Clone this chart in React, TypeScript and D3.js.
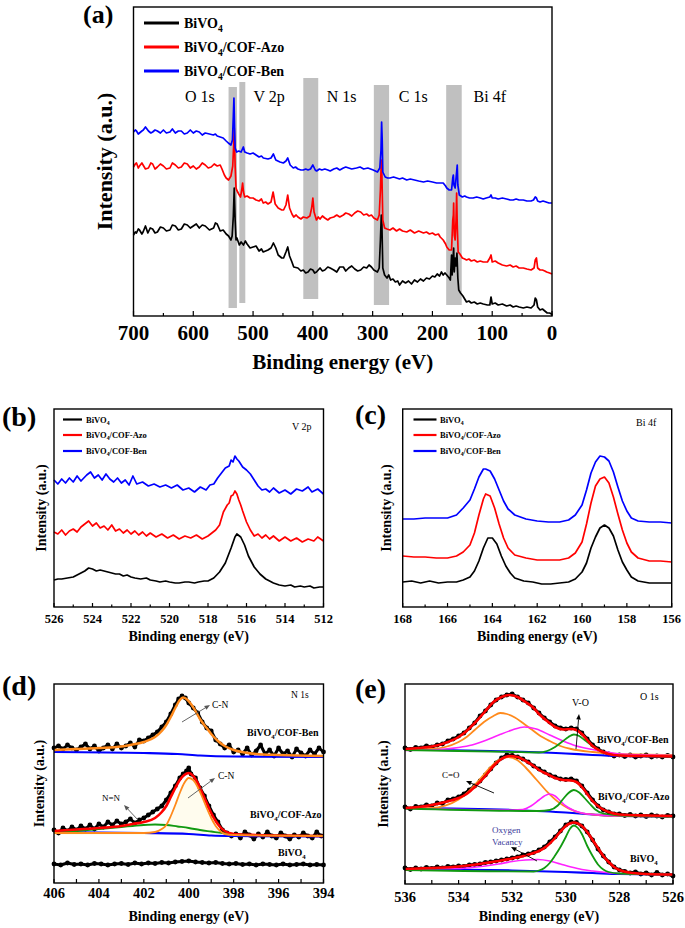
import React from 'react';
import * as d3 from 'd3';

type P = [number, number];
const FONT = '"Liberation Serif","Times New Roman",serif';

// ---------------- (a) survey ----------------
const surveyTicks = [700, 600, 500, 400, 300, 200, 100, 0];
const seriesNames = ['BiVO4', 'BiVO4/COF-Azo', 'BiVO4/COF-Ben'];
const seriesColors = ['#000000', '#ff0000', '#0000ff'];
const surveyBands = [
  { label: 'O 1s', from: 541, to: 527, lo: 8, hi: 229, labelAt: 589 },
  { label: 'V 2p', from: 523, to: 513, lo: 13, hi: 234, labelAt: 473 },
  { label: 'N 1s', from: 416, to: 391, lo: 17, hi: 238, labelAt: 352 },
  { label: 'C 1s', from: 298, to: 272.5, lo: 11, hi: 231, labelAt: 232 },
  { label: 'Bi 4f', from: 177, to: 151, lo: 11, hi: 231, labelAt: 104 },
];
const surveyBiVO4: P[] = [[700,81],[697,84],[695,83],[692,87],[690,86],[686,82],[684,84],[680,90],[676,83],[672,88],[668,87],[664,83],[660,84],[655,89],[650,88],[645,85],[639,86],[635,91],[630,90],[625,86],[620,87],[615,92],[610,91],[605,88],[600,90],[595,92],[590,88],[585,91],[580,90],[573,86],[566,88],[563,93],[560,92],[555,85],[550,86],[545,82],[541,80],[537,76],[535,80],[533,100],[531.5,128],[530,96],[528.5,76],[527,78],[523,71],[520,74],[516,71],[513,75],[510,72],[505,68],[500,69],[495,70],[490,65],[486,67],[483,64],[475,66],[470,68],[466,73],[462,68],[458,61],[452,58],[449,58],[445,64],[442,69],[439,60],[435,54],[432,49],[425,48],[420,45],[416,46],[412,43],[408,44],[404,47],[400,46],[397,43],[394,44],[388,48],[384,45],[380,46],[375,49],[371,48],[365,46],[360,44],[355,49],[349,49],[345,45],[340,48],[335,50],[330,47],[325,45],[320,46],[315,49],[310,48],[306,51],[302,49],[298,46],[292,44],[289,48],[287,76],[285.5,101],[284.5,91],[283,48],[280,41],[276,38],[273,41],[270,36],[266,37],[262,34],[258,35],[255,31],[250,35],[245,33],[240,35],[235,32],[230,36],[225,34],[220,37],[215,35],[210,38],[205,37],[200,40],[196,39],[192,42],[188,40],[185,44],[182,41],[179,43],[176,41],[172,38],[170,36],[168,61],[167,41],[164.5,68],[163.5,44],[162,58],[160.5,50],[159,63],[157.5,38],[156,26],[153,23],[149,20],[146,17],[143,14],[139,15],[135,13],[130,14],[125,12],[120,13],[115,12],[108,11],[104,11],[102,19],[100,12],[95,13],[90,11],[83,12],[76,10],[70,11],[65,9],[60,10],[55,9],[48,8],[42,9],[35,8],[30,11],[28,18],[26,16],[24,9],[20,6],[16,7],[12,5],[8,3],[4,3],[1,2],[0,1]];
const surveyAzo: P[] = [[700,149],[697,152],[695,153],[692,148],[690,150],[686,153],[684,151],[680,147],[675,148],[671,153],[668,152],[664,147],[660,149],[655,152],[650,150],[645,147],[639,148],[635,153],[630,151],[625,148],[620,149],[615,153],[610,152],[605,148],[600,150],[595,147],[590,149],[585,153],[580,151],[575,148],[570,149],[565,152],[560,150],[555,151],[552,147],[548,141],[545,138],[541,136],[537,140],[534,150],[532.5,170],[531.5,188],[530,150],[528.5,128],[527.5,126],[524,122],[521,119],[519,126],[517.5,133],[516,124],[514,119],[510,120],[505,118],[500,118],[495,116],[490,115],[486,117],[483,113],[479,114],[475,112],[470,114],[466.5,124],[463,112],[458,108],[452,106],[449,106],[445,111],[442,121],[439,108],[435,102],[432,99],[428,101],[425,99],[420,97],[416,99],[410,98],[405,100],[402,108],[400,118],[398,104],[394,96],[391,99],[388,97],[384,100],[380,98],[375,96],[371,98],[365,99],[360,101],[355,99],[349,101],[345,103],[340,102],[335,100],[330,103],[325,105],[320,104],[315,101],[310,102],[306,100],[302,101],[298,98],[292,96],[289,101],[287,126],[285.5,156],[284.5,141],[283,96],[280,88],[276,87],[271,86],[266,88],[260,85],[255,87],[250,85],[243,84],[237,86],[230,83],[223,85],[215,83],[210,84],[205,82],[200,83],[195,81],[190,82],[187,79],[182,76],[178,72],[176,69],[172,66],[168,66],[166,96],[165,101],[164.5,113],[163.5,81],[162,76],[160.5,96],[159.5,123],[158.5,91],[157,64],[154,62],[150,58],[146,57],[143,56],[139,57],[135,55],[130,56],[125,54],[120,55],[115,54],[108,54],[104,58],[102,61],[100,54],[95,55],[90,53],[83,51],[76,50],[70,51],[65,49],[60,50],[55,48],[48,48],[42,47],[35,46],[30,48],[28,56],[26,58],[24,48],[20,46],[16,46],[12,45],[9,44],[4,43],[0,42]];
const surveyBen: P[] = [[700,184],[697,186],[695,185],[692,182],[690,183],[686,185],[683.6,186],[680,189],[675,185],[671,183],[668,184],[664,186],[660,185],[655,183],[650,186],[645,183],[639,184],[635,187],[630,183],[625,185],[620,185],[615,182],[610,183],[605,186],[600,183],[595,185],[590,184],[585,181],[580,183],[573,182],[566.5,181],[563,182],[560,180],[555,179],[550,178],[545,175],[541.4,173],[537,171],[534.5,176],[533,200],[532,218],[531,190],[530,168],[527.5,164],[524,165],[520,164],[516.3,169],[514,164],[510,163],[505,162],[500,163],[495,161],[490,159],[486,160],[482.8,158],[475,157],[470,158],[466,162],[462,156],[455,154],[449.4,153],[445,155],[442,158],[438,151],[432.7,148],[429,149],[425,147],[420,146],[416,146],[412,147],[408,146],[404,147],[400,151],[396,146],[393.7,145],[389,147],[385,146],[380,147],[375,146],[371,145],[365,147],[360,148],[355,146],[349,148],[345,149],[340,148],[335,147],[327,148],[321,149],[315,147],[308,148],[299,146],[292,144],[288,148],[286,166],[285,194],[284,176],[283,144],[279,139],[275,138],[271,138],[265,139],[260,138],[255,137],[250,138],[243,136],[237,137],[230,136],[223,135],[215,134],[208,135],[200,134],[193,133],[187,133],[182,133],[178,130],[176,128],[172,126],[168,126],[166,138],[165,141],[164,131],[162,128],[160,141],[158.5,151],[157.5,131],[155,121],[150,119],[146,120],[143,119],[138,118],[132,118],[126,119],[120,118],[115,117],[110,118],[104,119],[102,121],[100,118],[95,118],[90,117],[83,118],[76,117],[70,116],[65,116],[60,117],[55,116],[48,116],[42,115],[35,115],[31,116],[28,119],[26,118],[24,115],[20,114],[15,115],[10,114],[5,113],[0,113]];

// ---------------- (b) V 2p ----------------
const v2pTicks = [526, 524, 522, 520, 518, 516, 514, 512];
const v2pBiVO4: P[] = [[526,27],[525.8,28],[525.6,28],[525.3,29],[525,30],[524.7,33],[524.4,36],[524.2,39],[524,38],[523.8,36],[523.6,37],[523.4,36],[523.2,35],[523,34],[522.8,33],[522.6,33],[522.4,31],[522.2,32],[522,30],[521.8,29],[521.5,28],[521.2,29],[521,27],[520.7,26],[520.5,25],[520.2,26],[520,25],[519.7,24],[519.5,24],[519.2,25],[519,25],[518.7,24],[518.5,25],[518.2,26],[518,26],[517.7,29],[517.4,35],[517.1,44],[516.8,59],[516.6,70],[516.5,73],[516.3,70],[516.1,62],[515.9,51],[515.6,40],[515.3,33],[515,28],[514.8,26],[514.6,24],[514.3,22],[514,21],[513.7,22],[513.5,20],[513.2,21],[513,20],[512.7,21],[512.5,19],[512.2,20],[512,20]];
const v2pAzo: P[] = [[526,75],[525.8,73],[525.6,77],[525.4,72],[525.2,76],[525,78],[524.8,75],[524.6,80],[524.4,83],[524.2,86],[524,81],[523.8,84],[523.6,79],[523.4,81],[523.2,77],[523,82],[522.8,76],[522.6,78],[522.4,74],[522.2,77],[522,73],[521.8,76],[521.6,72],[521.4,75],[521.2,71],[521,74],[520.7,70],[520.4,73],[520.1,69],[519.8,72],[519.5,68],[519.2,71],[518.9,69],[518.6,72],[518.3,68],[518,71],[517.8,74],[517.6,77],[517.4,82],[517.2,95],[517,102],[516.9,104],[516.8,111],[516.7,112],[516.6,116],[516.5,113],[516.4,107],[516.3,102],[516.2,96],[516,85],[515.8,77],[515.6,71],[515.4,73],[515.2,69],[515,72],[514.8,68],[514.6,71],[514.3,66],[514,70],[513.7,66],[513.4,69],[513.1,65],[512.8,68],[512.5,66],[512.3,70],[512,66]];
const v2pBen: P[] = [[526,127],[525.8,123],[525.6,128],[525.4,124],[525.2,129],[525,125],[524.8,131],[524.6,126],[524.3,132],[524.1,135],[523.9,129],[523.7,132],[523.5,127],[523.3,133],[523.1,128],[522.9,125],[522.7,129],[522.5,124],[522.3,127],[522.1,122],[521.9,131],[521.7,123],[521.4,125],[521.1,121],[520.8,123],[520.5,120],[520.2,122],[519.9,119],[519.6,122],[519.3,117],[519,119],[518.7,115],[518.4,120],[518.1,117],[517.9,122],[517.7,123],[517.5,129],[517.3,134],[517.1,139],[516.9,141],[516.8,147],[516.7,145],[516.6,151],[516.5,148],[516.4,146],[516.2,140],[516,137],[515.8,133],[515.6,127],[515.4,121],[515.2,117],[515,118],[514.8,115],[514.6,119],[514.3,114],[514,117],[513.7,113],[513.4,118],[513.1,116],[512.8,120],[512.6,115],[512.3,118],[512,113]];

// ---------------- (c) Bi 4f ----------------
const bi4fTicks = [168, 166, 164, 162, 160, 158, 156];
const bi4fBiVO4: P[] = [[168,25],[167.6,26],[167.2,24],[166.8,26],[166.4,24],[166,25],[165.6,25],[165.3,27],[165,30],[164.8,36],[164.6,46],[164.4,59],[164.2,69],[164,69],[163.8,63],[163.6,51],[163.4,41],[163.2,34],[163,29],[162.6,26],[162.2,25],[161.8,23],[161.4,23],[161,24],[160.6,25],[160.3,28],[160,35],[159.8,44],[159.6,59],[159.4,70],[159.2,79],[159,82],[158.8,79],[158.6,71],[158.4,57],[158.2,45],[158,37],[157.8,30],[157.5,26],[157,24],[156.5,24],[156,24]];
const bi4fAzo: P[] = [[168,51],[167.5,50],[167,50],[166.5,49],[166,49],[165.6,51],[165.3,55],[165,62],[164.8,74],[164.6,92],[164.4,108],[164.3,113],[164.1,111],[163.9,99],[163.7,83],[163.5,69],[163.3,59],[163,52],[162.5,49],[162,47],[161.5,47],[161,47],[160.6,49],[160.3,54],[160,65],[159.8,83],[159.6,104],[159.4,121],[159.2,128],[159,130],[158.8,124],[158.6,110],[158.4,93],[158.2,77],[158,64],[157.8,55],[157.5,49],[157,46],[156.5,46],[156,45]];
const bi4fBen: P[] = [[168,88],[167.5,88],[167,89],[166.5,89],[166,89],[165.6,92],[165.3,99],[165,107],[164.8,118],[164.6,130],[164.4,138],[164.3,138],[164.1,136],[163.9,128],[163.7,117],[163.5,106],[163.3,98],[163,92],[162.5,88],[162,86],[161.5,85],[161,85],[160.6,87],[160.3,92],[160,102],[159.8,117],[159.6,134],[159.4,145],[159.2,151],[159,150],[158.8,146],[158.6,135],[158.4,120],[158.2,106],[158,96],[157.8,89],[157.5,86],[157,85],[156.5,85],[156,84]];

// ---------------- (d) N 1s ----------------
const n1sTicks = [406, 404, 402, 400, 398, 396, 394];
const n1sBenBase: P[] = [[406,131],[402,130],[400.5,129],[399.5,127.5],[398,126.5],[394,126]];
const n1sBenFit: P[] = [[406,133],[405,134],[404,135],[403,136.5],[402.5,138.5],[402,141],[401.5,146],[401.2,152],[401,158],[400.8,166],[400.6,175],[400.4,183],[400.25,185.5],[400.1,184],[399.9,179],[399.7,172],[399.5,164],[399.2,155],[399,149],[398.7,142],[398.4,137],[398,133],[397.5,130.5],[397,129],[396,128],[394,127]];
const n1sBenDots: P[] = [[406,135],[405.8,137],[405.6,134],[405.4,138],[405.2,135],[405,133],[404.8,136],[404.6,139],[404.4,134],[404.2,137],[404,132],[403.8,135],[403.6,138],[403.4,134],[403.2,139],[403,135],[402.8,137],[402.6,140],[402.4,136],[402.2,143],[402,142],[401.8,145],[401.6,148],[401.4,151],[401.2,156],[401,161],[400.8,169],[400.6,178],[400.45,184],[400.3,187],[400.15,185],[400,180],[399.8,175],[399.6,170],[399.4,161],[399.2,155],[399,152],[398.8,143],[398.6,139],[398.4,135],[398.2,138],[398,131],[397.8,133],[397.6,129],[397.4,135],[397.2,128],[397,132],[396.8,138],[396.6,129],[396.4,133],[396.2,127],[396,135],[395.8,129],[395.6,132],[395.4,126],[395.2,134],[395,130],[394.8,127],[394.6,133],[394.4,129],[394.2,135],[394,131]];
const n1sAzoBase: P[] = [[406,51],[402,50],[400,49],[399,47.5],[398,47],[394,46.5]];
const n1sAzoEnv: P[] = [[406,52],[405,53.5],[404,55],[403,57],[402.5,59],[402,61],[401.5,65],[401.2,71],[401,77],[400.8,86],[400.6,95],[400.4,103],[400.2,108],[400,110],[399.8,107],[399.6,100],[399.4,90],[399.2,80],[399,70],[398.8,62],[398.6,56],[398.4,52],[398.2,50],[398,49],[397,48],[396,47.5],[394,47]];
const n1sAzoCN: P[] = [[406,50],[402,50],[401.5,51],[401.2,54],[401,58],[400.8,67],[400.6,78],[400.4,90],[400.2,100],[400,105],[399.8,103],[399.6,96],[399.4,86],[399.2,75],[399,65],[398.8,57],[398.6,52],[398.4,49],[398,48],[394,47]];
const n1sAzoNN: P[] = [[406,50],[405,52],[404,54],[403,56],[402.5,57],[402,58],[401.5,58.5],[401,58],[400.5,56.5],[400,55],[399.5,53],[399,51.5],[398.5,50],[398,49],[397,48],[396,47.5],[394,47]];
const n1sAzoDots: P[] = [[406,53],[405.8,50],[405.6,55],[405.4,52],[405.2,56],[405,53],[404.8,57],[404.6,54],[404.4,58],[404.2,54],[404,59],[403.8,56],[403.6,61],[403.4,58],[403.2,62],[403,59],[402.8,61],[402.6,64],[402.4,60],[402.2,63],[402,65],[401.8,68],[401.6,71],[401.4,74],[401.2,77],[401,83],[400.8,90],[400.6,97],[400.4,105],[400.25,109],[400.1,112],[400,115],[399.9,109],[399.7,105],[399.5,95],[399.3,87],[399.1,77],[398.9,68],[398.7,61],[398.5,53],[398.3,50],[398.1,47],[397.9,49],[397.7,45],[397.5,51],[397.3,48],[397.1,44],[396.9,49],[396.7,46],[396.5,51],[396.3,47],[396.1,45],[395.9,50],[395.7,47],[395.5,44],[395.3,48],[395.1,46],[394.9,50],[394.7,47],[394.5,45],[394.3,51],[394.1,47]];
const n1sBiVO4Dots: P[] = [[406,19],[405.7,18],[405.4,20],[405.1,18.5],[404.8,19],[404.5,18],[404.2,19.5],[403.9,19],[403.6,18],[403.3,19],[403,19.5],[402.7,18.5],[402.4,20],[402.1,19],[401.8,20],[401.5,19.5],[401.2,20.5],[400.9,20],[400.6,21],[400.3,21.5],[400,22],[399.7,21],[399.4,20.5],[399.1,20],[398.8,20.5],[398.5,19.5],[398.2,19],[397.9,19.5],[397.6,18.5],[397.3,19],[397,18],[396.7,19],[396.4,18.5],[396.1,18],[395.8,19],[395.5,18],[395.2,18.5],[394.9,19],[394.6,18],[394.3,18.5],[394,18]];

// ---------------- (e) O 1s ----------------
const o1sTicks = [536, 534, 532, 530, 528, 526];
const o1sBenBase: P[] = [[536,134.5],[532,132.5],[530,130.5],[529,129],[528,128],[526,127.5]];
const o1sBenEnv: P[] = [[536,135],[535.5,136],[535,137.5],[534.5,141],[534,147],[533.7,153],[533.4,161],[533,173],[532.7,182],[532.4,187],[532.1,189],[531.8,187],[531.5,182],[531.2,176],[531,170],[530.7,163],[530.4,157],[530.1,154.5],[529.8,155],[529.6,154],[529.4,150],[529.2,144],[529,138],[528.7,133],[528.4,130],[528,128.5],[527,128],[526,127.5]];
const o1sBenCO: P[] = [[536,134],[535,135],[534.5,137],[534,142],[533.7,147],[533.4,154],[533,163],[532.7,168],[532.45,171],[532.2,170],[531.9,166.5],[531.6,161],[531.3,155],[531,149],[530.6,143],[530.2,138],[529.8,135],[529,132],[528,130],[526,129]];
const o1sBenOV: P[] = [[536,133.5],[534.5,135],[534,136.5],[533.5,139],[533,143.5],[532.5,149],[532,154],[531.55,157],[531.1,155],[530.6,149],[530.1,143],[529.6,138],[529,134.5],[528.5,132],[528,130],[526,128.5]];
const o1sBenVO: P[] = [[536,134],[532,132],[531,131.5],[530.7,133],[530.4,137],[530.1,143],[529.9,147],[529.7,149.5],[529.5,148],[529.3,144],[529,138],[528.7,133],[528.4,130],[528,128.5],[526,127.5]];
const o1sBenDots: P[] = [[536,136],[535.8,134.5],[535.6,136.5],[535.4,136],[535.2,138],[535,137],[534.8,139],[534.6,140],[534.4,143],[534.2,145],[534,148],[533.8,151],[533.6,156],[533.4,161],[533.2,168],[533,173],[532.8,179],[532.6,184],[532.4,187],[532.2,189],[532,190],[531.8,187],[531.6,184],[531.4,181],[531.2,176],[531,171],[530.8,166],[530.6,162],[530.4,158],[530.2,156],[530,155],[529.8,156],[529.6,155],[529.4,151],[529.2,145],[529,139],[528.8,135],[528.6,132],[528.4,130],[528.2,128],[528,129],[527.8,127.5],[527.6,129],[527.4,127],[527.2,128],[527,129],[526.8,127],[526.6,128],[526.4,127],[526.2,128.5],[526,127]];
const o1sAzoBase: P[] = [[536,76],[532,74],[530,71.5],[529,69.5],[528,68],[526,67.5]];
const o1sAzoEnv: P[] = [[536,76],[535.5,77],[535,79],[534.5,82],[534,86],[533.7,90],[533.4,97],[533,108],[532.7,118],[532.4,125],[532.1,128],[531.8,127],[531.5,123],[531.2,118],[531,114],[530.7,110],[530.4,106],[530.1,104],[529.8,103.5],[529.6,102],[529.4,97],[529.2,90],[529,83],[528.7,76],[528.4,72],[528,69.5],[527,68.5],[526,68]];
const o1sAzoCO: P[] = [[536,76],[535,76],[534.5,78.3],[534,84.4],[533.6,93.2],[533.2,105],[532.8,117.1],[532.5,124],[532.15,127],[531.8,123.8],[531.5,116.5],[531.1,104.5],[530.7,92.4],[530.3,82.4],[529.9,75.6],[529.5,71.5],[529,69.5],[528,68],[526,67.5]];
const o1sAzoOV: P[] = [[536,76],[532,74],[531.6,74.5],[531.3,78],[531,84],[530.8,88],[530.62,90],[530.4,88],[530.2,83],[530,78],[529.7,73.5],[529.4,71],[529,69.5],[528,68],[526,67.5]];
const o1sAzoVO: P[] = [[536,75.5],[531,73],[530.6,74],[530.3,78.5],[530.1,85],[529.9,91],[529.7,94],[529.5,91.5],[529.3,86],[529.1,80],[528.9,74.5],[528.6,70.5],[528,68.5],[526,67.5]];
const o1sAzoDots: P[] = [[536,77],[535.8,75],[535.6,77.5],[535.4,77],[535.2,79],[535,78],[534.8,81],[534.6,80.5],[534.4,84],[534.2,85],[534,87],[533.8,90],[533.6,94],[533.4,98],[533.2,103],[533,109],[532.8,115],[532.6,121],[532.4,126],[532.2,129],[532,128.5],[531.8,127],[531.6,125],[531.4,122],[531.2,118],[531,115],[530.8,112],[530.6,109],[530.4,107],[530.2,105],[530,104.5],[529.8,105],[529.6,103],[529.4,98],[529.2,91],[529,84],[528.8,78],[528.6,74],[528.4,72],[528.2,70],[528,70],[527.8,68.5],[527.6,69.5],[527.4,68],[527.2,69],[527,67.5],[526.8,69],[526.6,68],[526.4,67],[526.2,68.5],[526,68]];
const o1sBiVO4Base: P[] = [[536,15],[532,13.5],[530,12],[529,11],[528,10],[526,9.5]];
const o1sBiVO4Env: P[] = [[536,15],[535,16],[534,17.5],[533.5,19],[533,21],[532.5,23],[532,25.5],[531.5,28.5],[531.2,31],[531,33],[530.7,38],[530.4,46],[530.2,52.5],[530,58],[529.85,60.5],[529.7,61.5],[529.55,60.5],[529.4,58],[529.2,52],[529,44],[528.8,36],[528.6,28],[528.4,22],[528.2,17],[528,14],[527.5,11],[527,10],[526,9.5]];
const o1sBiVO4VO: P[] = [[536,14],[531.2,12.5],[531,13.5],[530.8,16],[530.6,21],[530.4,28.5],[530.2,37],[530,47],[529.85,55],[529.7,58.5],[529.55,56],[529.4,50],[529.2,38],[529,28],[528.8,19.5],[528.6,14.5],[528.4,12],[528,10.5],[526,9.5]];
const o1sBiVO4OV: P[] = [[536,15],[534,15.5],[533.5,16.5],[533,18],[532.5,20],[532,22.5],[531.5,24],[531.05,24.5],[530.6,23],[530.2,20],[529.8,17],[529.4,14.5],[529,13],[528.5,11.5],[528,10.5],[526,9.5]];
const o1sBiVO4Dots: P[] = [[536,16],[535.8,14.5],[535.6,16],[535.4,15],[535.2,16.5],[535,15.5],[534.8,17],[534.6,16],[534.4,17.5],[534.2,17],[534,18],[533.8,17.5],[533.6,19],[533.4,19.5],[533.2,20],[533,21.5],[532.8,22],[532.6,23],[532.4,24],[532.2,25],[532,26],[531.8,27],[531.6,29],[531.4,30],[531.2,31.5],[531,34],[530.8,37],[530.6,42],[530.4,47],[530.2,53],[530,59],[529.8,62],[529.6,61.5],[529.4,58],[529.2,52],[529,44],[528.8,35],[528.6,28],[528.4,22],[528.2,17],[528,14],[527.8,12.5],[527.6,11],[527.4,12],[527.2,10],[527,11],[526.8,9],[526.6,11.5],[526.4,9],[526.2,10],[526,8]];

// ---------------- helpers ----------------
function Name({ name, x, y, size, weight = 'bold', anchor = 'start', fill = '#000' }: any) {
  const idx = name.indexOf('4');
  const head = name.slice(0, idx);
  const tail = name.slice(idx + 1);
  const s = size * 0.25;
  return (
    <text x={x} y={y} fontSize={size} fontWeight={weight} fontFamily={FONT} textAnchor={anchor} fill={fill}>
      {head}
      <tspan dy={s} fontSize={size * 0.68}>4</tspan>
      {tail ? <tspan dy={-s}>{tail}</tspan> : null}
    </text>
  );
}

function Frame({ x, y, ticks, minorStep, labelY, labelSize, majorLen, minorLen, xLabel, xLabelY, xLabelSize, yLabelX, yLabelSize }: any) {
  const [x0, x1] = x.range();
  const [yb, yt] = y.range();
  const d = x.domain();
  const lo = Math.min(d[0], d[1]);
  const hi = Math.max(d[0], d[1]);
  const minors = d3.range(lo, hi + 1e-6, minorStep);
  const yMid = (yb + yt) / 2;
  return (
    <g>
      <rect x={x0} y={yt} width={x1 - x0} height={yb - yt} fill="none" stroke="#000" strokeWidth={1.4} />
      {minors.map((v: number) => (
        <line key={'m' + v} x1={x(v)} x2={x(v)} y1={yb} y2={yb - (ticks.includes(v) ? majorLen : minorLen)} stroke="#000" strokeWidth={1.2} />
      ))}
      {ticks.map((v: number) => (
        <text key={'t' + v} x={x(v)} y={labelY} fontSize={labelSize} fontWeight="bold" fontFamily={FONT} textAnchor="middle">{v}</text>
      ))}
      <text x={(x0 + x1) / 2} y={xLabelY} fontSize={xLabelSize} fontWeight="bold" fontFamily={FONT} textAnchor="middle">{xLabel}</text>
      <text transform={`translate(${yLabelX},${yMid}) rotate(-90)`} fontSize={yLabelSize} fontWeight="bold" fontFamily={FONT} textAnchor="middle">Intensity (a.u.)</text>
    </g>
  );
}

function mkLine(x: any, y: any, curve: any = d3.curveLinear) {
  return d3.line<P>().x((d) => x(d[0])).y((d) => y(d[1])).curve(curve);
}

function Dots({ data, x, y, r = 2.4 }: any) {
  const ln = mkLine(x, y);
  return (
    <g>
      <path d={ln(data) || ''} fill="none" stroke="#000" strokeWidth={3} strokeLinejoin="round" />
      {data.map((d: P, i: number) => <circle key={i} cx={x(d[0])} cy={y(d[1])} r={r} fill="#000" />)}
    </g>
  );
}

function Arrow({ x1, y1, x2, y2, color }: any) {
  const ang = Math.atan2(y2 - y1, x2 - x1);
  const L = 5.5, W = 2.3;
  const bx = x2 - L * Math.cos(ang), by = y2 - L * Math.sin(ang);
  const px = -Math.sin(ang) * W, py = Math.cos(ang) * W;
  return (
    <g>
      <line x1={x1} y1={y1} x2={bx} y2={by} stroke={color} strokeWidth={0.9} />
      <path d={`M${x2},${y2}L${bx + px},${by + py}L${bx - px},${by - py}Z`} fill={color} />
    </g>
  );
}

export default function App() {
  // (a)
  const xa = d3.scaleLinear().domain([700, 0]).range([133.5, 552]);
  const ya = d3.scaleLinear().domain([0, 309]).range([316, 7]);
  const la = mkLine(xa, ya);
  const surveys = [surveyBiVO4, surveyAzo, surveyBen];

  // (b)
  const xb = d3.scaleLinear().domain([526, 512]).range([54, 323.5]);
  const yb = d3.scaleLinear().domain([0, 198]).range([607, 409]);
  const lb = mkLine(xb, yb);
  const v2p = [v2pBiVO4, v2pAzo, v2pBen];

  // (c)
  const xc = d3.scaleLinear().domain([168, 156]).range([402.7, 671.7]);
  const yc = d3.scaleLinear().domain([0, 198]).range([607, 409]);
  const lc = mkLine(xc, yc);
  const bi4f = [bi4fBiVO4, bi4fAzo, bi4fBen];

  // (d)
  const xd = d3.scaleLinear().domain([406, 394]).range([54, 323.5]);
  const yd = d3.scaleLinear().domain([0, 199]).range([883, 684]);
  const ld = mkLine(xd, yd, d3.curveMonotoneX);
  const areaD = d3.area<P>().x((d) => xd(d[0])).y0(yd(48)).y1((d) => yd(d[1])).curve(d3.curveMonotoneX);

  // (e)
  const xe = d3.scaleLinear().domain([536, 526]).range([405, 673]);
  const ye = d3.scaleLinear().domain([0, 200]).range([884, 684]);
  const le = mkLine(xe, ye, d3.curveMonotoneX);

  const ORANGE = '#ff8a1c';
  const MAGENTA = '#ff22ff';
  const GREEN = '#119a11';

  return (
    <svg width={685} height={928} style={{ position: 'absolute', left: 0, top: 0, background: '#fff' }} fontFamily={FONT}>
      <rect x={0} y={0} width={685} height={928} fill="#fff" />
      {/* ---------- (a) ---------- */}
      <text x={83} y={23} fontSize={26} fontWeight="bold">(a)</text>
      {surveyBands.map((b) => (
        <rect key={b.label} x={xa(b.from)} width={xa(b.to) - xa(b.from)} y={ya(b.hi)} height={ya(b.lo) - ya(b.hi)} fill="#c0c0c0" />
      ))}
      {surveyBands.map((b) => (
        <text key={'l' + b.label} x={xa(b.labelAt)} y={102} fontSize={16} textAnchor="middle">{b.label}</text>
      ))}
      {surveys.map((s, i) => (
        <path key={i} d={la(s) || ''} fill="none" stroke={seriesColors[i]} strokeWidth={1.7} strokeLinejoin="round" />
      ))}
      {seriesNames.map((n, i) => (
        <g key={n}>
          <line x1={144} x2={179} y1={23 + 24 * i} y2={23 + 24 * i} stroke={seriesColors[i]} strokeWidth={3} />
          <Name name={n} x={184} y={28 + 24 * i} size={14} />
        </g>
      ))}
      <Frame x={xa} y={ya} ticks={surveyTicks} minorStep={50} labelY={340} labelSize={21} majorLen={5} minorLen={3}
        xLabel="Binding energy (eV)" xLabelY={369} xLabelSize={21} yLabelX={112} yLabelSize={22} />

      {/* ---------- (b) ---------- */}
      <text x={2} y={426} fontSize={28} fontWeight="bold">(b)</text>
      {v2p.map((s, i) => (
        <path key={i} d={lb(s) || ''} fill="none" stroke={seriesColors[i]} strokeWidth={1.7} strokeLinejoin="round" />
      ))}
      {seriesNames.map((n, i) => (
        <g key={n}>
          <line x1={63} x2={82} y1={[419.5, 435, 451][i]} y2={[419.5, 435, 451][i]} stroke={seriesColors[i]} strokeWidth={2.2} />
          <Name name={n} x={86} y={[419.5, 435, 451][i] + 3} size={8.5} />
        </g>
      ))}
      <text x={292} y={430} fontSize={10}>V 2p</text>
      <Frame x={xb} y={yb} ticks={v2pTicks} minorStep={1} labelY={623} labelSize={12.5} majorLen={4} minorLen={2.5}
        xLabel="Binding energy (eV)" xLabelY={641} xLabelSize={14} yLabelX={46} yLabelSize={14} />

      {/* ---------- (c) ---------- */}
      <text x={355} y={424} fontSize={28} fontWeight="bold">(c)</text>
      {bi4f.map((s, i) => (
        <path key={i} d={lc(s) || ''} fill="none" stroke={seriesColors[i]} strokeWidth={1.7} strokeLinejoin="round" />
      ))}
      {seriesNames.map((n, i) => (
        <g key={n}>
          <line x1={413.5} x2={436.5} y1={[419.5, 435, 451][i]} y2={[419.5, 435, 451][i]} stroke={seriesColors[i]} strokeWidth={2.2} />
          <Name name={n} x={440} y={[419.5, 435, 451][i] + 3} size={8.5} />
        </g>
      ))}
      <text x={636} y={426} fontSize={10}>Bi 4f</text>
      <Frame x={xc} y={yc} ticks={bi4fTicks} minorStep={1} labelY={623} labelSize={12.5} majorLen={4} minorLen={2.5}
        xLabel="Binding energy (eV)" xLabelY={641} xLabelSize={14} yLabelX={391} yLabelSize={14} />

      {/* ---------- (d) ---------- */}
      <text x={2} y={695} fontSize={28} fontWeight="bold">(d)</text>
      <path d={areaD(n1sAzoCN) || ''} fill="#fffcee" stroke="none" />
      <Dots data={n1sBenDots} x={xd} y={yd} />
      <Dots data={n1sAzoDots} x={xd} y={yd} />
      <Dots data={n1sBiVO4Dots} x={xd} y={yd} />
      <path d={ld(n1sBenBase) || ''} fill="none" stroke="#0000ff" strokeWidth={2.2} />
      <path d={ld(n1sBenFit) || ''} fill="none" stroke={ORANGE} strokeWidth={2.4} />
      <path d={ld(n1sAzoBase) || ''} fill="none" stroke="#0000ff" strokeWidth={2.2} />
      <path d={ld(n1sAzoNN) || ''} fill="none" stroke={GREEN} strokeWidth={1.8} />
      <path d={ld(n1sAzoEnv) || ''} fill="none" stroke="#ff0000" strokeWidth={2.6} />
      <path d={ld(n1sAzoCN) || ''} fill="none" stroke={ORANGE} strokeWidth={1.8} />
      <text x={291} y={698} fontSize={9.5}>N 1s</text>
      <text x={212} y={708} fontSize={9.5}>C-N</text>
      <Arrow x1={182} y1={722} x2={210} y2={705} color="#555" />
      <text x={218} y={779} fontSize={9.5}>C-N</text>
      <Arrow x1={188} y1={798} x2={215} y2={778} color="#555" />
      <text x={102} y={801} fontSize={9}>N=N</text>
      <Arrow x1={138} y1={820} x2={124} y2={805} color="#555" />
      <Name name="BiVO4/COF-Ben" x={247} y={736} size={10} />
      <Name name="BiVO4/COF-Azo" x={250} y={818} size={10} />
      <Name name="BiVO4" x={278} y={856} size={10} />
      <Frame x={xd} y={yd} ticks={n1sTicks} minorStep={1} labelY={898} labelSize={14.5} majorLen={4} minorLen={4}
        xLabel="Binding energy (eV)" xLabelY={921} xLabelSize={14} yLabelX={44} yLabelSize={14} />

      {/* ---------- (e) ---------- */}
      <text x={355} y={698} fontSize={28} fontWeight="bold">(e)</text>
      <Dots data={o1sBenDots} x={xe} y={ye} />
      <Dots data={o1sAzoDots} x={xe} y={ye} />
      <Dots data={o1sBiVO4Dots} x={xe} y={ye} />
      {[
        [o1sBenBase, o1sBenCO, o1sBenOV, o1sBenVO, o1sBenEnv],
        [o1sAzoBase, o1sAzoCO, o1sAzoOV, o1sAzoVO, o1sAzoEnv],
        [o1sBiVO4Base, null, o1sBiVO4OV, o1sBiVO4VO, o1sBiVO4Env],
      ].map((set: any, i) => (
        <g key={i}>
          <path d={le(set[0]) || ''} fill="none" stroke="#0000ff" strokeWidth={2.2} />
          {set[1] ? <path d={le(set[1]) || ''} fill="none" stroke={ORANGE} strokeWidth={1.8} /> : null}
          <path d={le(set[2]) || ''} fill="none" stroke={MAGENTA} strokeWidth={1.6} />
          <path d={le(set[3]) || ''} fill="none" stroke={GREEN} strokeWidth={1.8} />
          <path d={le(set[4]) || ''} fill="none" stroke="#ff0000" strokeWidth={2.6} />
        </g>
      ))}
      <text x={640} y={700} fontSize={10}>O 1s</text>
      <text x={572} y={706} fontSize={10}>V-O</text>
      <Arrow x1={576} y1={749} x2={579} y2={714} color="#000" />
      <text x={442} y={778} fontSize={9}>C=O</text>
      <Arrow x1={494} y1={793} x2={466} y2={781} color="#000" />
      <text x={492} y={833} fontSize={9} fill="#3a3a9a">Oxygen</text>
      <text x={492} y={845} fontSize={9} fill="#3a3a9a">Vacancy</text>
      <Arrow x1={537} y1={861} x2={511} y2={847} color="#000" />
      <Name name="BiVO4/COF-Ben" x={597} y={743} size={10} />
      <Name name="BiVO4/COF-Azo" x={598} y={800} size={10} />
      <Name name="BiVO4" x={630} y={862} size={10} />
      <Frame x={xe} y={ye} ticks={o1sTicks} minorStep={1} labelY={902} labelSize={14.5} majorLen={4} minorLen={4}
        xLabel="Binding energy (eV)" xLabelY={921} xLabelSize={14} yLabelX={388} yLabelSize={14} />
    </svg>
  );
}
